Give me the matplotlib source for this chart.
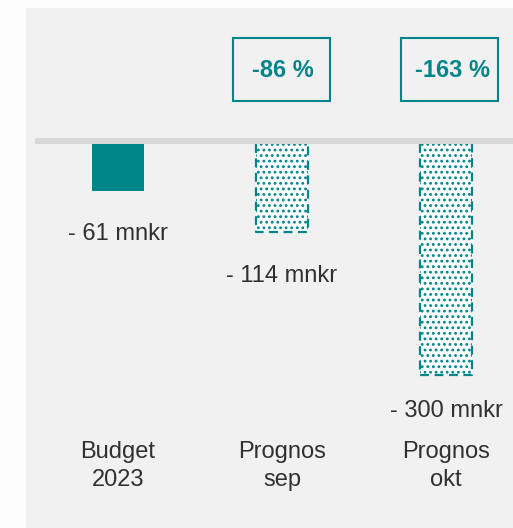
import matplotlib
matplotlib.use("Agg")
import matplotlib.pyplot as plt
from matplotlib.patches import Rectangle

# ---- data ----
categories = ["Budget\n2023", "Prognos\nsep", "Prognos\nokt"]
values = [-61, -114, -300]
value_labels = ["- 61 mnkr", "- 114 mnkr", "- 300 mnkr"]
change_labels = [None, "-86 %", "-163 %"]
forecast = [False, True, True]

# ---- style ----
TEAL = "#00858b"
TEXT = "#303030"
PANEL = "#f1f1f1"
BG = "#fdfdfd"
plt.rcParams["font.family"] = ["Liberation Sans", "DejaVu Sans"]
plt.rcParams["hatch.linewidth"] = 1.25

W, H, DPI = 513, 528, 100
fig = plt.figure(figsize=(W / DPI, H / DPI), dpi=DPI, facecolor=BG)
ax = fig.add_axes([26 / W, 0, (W - 26) / W, (H - 8) / H])
ax.set_facecolor(PANEL)
for s in ax.spines.values():
    s.set_visible(False)
ax.set_xticks([])
ax.set_yticks([])

XS = 164.0       # px per category
YS = 0.7704      # px per mnkr
X0PX, Y0PX = 118.0, 144.0
ax.set_xlim((26 - X0PX) / XS, (W - X0PX) / XS)
ax.set_ylim(-(H - Y0PX) / YS, (Y0PX - 8) / YS)

def dx(px):
    return px / XS

def dy(px):
    return px / YS

xs = list(range(len(categories)))
bw = dx(52)

# baseline band
ax.axhspan(0, dy(6), xmin=(35 - 26) / (W - 26), xmax=1, color="#d9d9d9", lw=0, zorder=2)

for x, v, fc in zip(xs, values, forecast):
    if not fc:
        ax.bar(x, v, width=bw, color=TEAL, lw=0, zorder=3)
    else:
        ax.bar(x, v, width=bw, facecolor="white", edgecolor=TEAL, lw=0,
               hatch="...", zorder=3)
        x0, x1 = x - bw / 2, x + bw / 2
        ax.plot([x0, x0, x1, x1], [0, v, v, 0], color=TEAL, lw=1.6,
                dashes=(4, 2.5), zorder=4, solid_joinstyle="miter")

label_off = [49, 50, 42]
for x, v, lab, off in zip(xs, values, value_labels, label_off):
    ax.annotate(lab, (x, v), xytext=(0, -off), textcoords="offset pixels",
                ha="center", va="baseline", fontsize=17, color=TEXT)

for x, cat in zip(xs, categories):
    ax.annotate(cat, (x, 0), xytext=(0, -(486 - Y0PX)), textcoords="offset pixels",
                ha="center", va="baseline", fontsize=17, color=TEXT,
                linespacing=1.35)

box_dx = [0, -0.5, 3.5]
txt_dx = [0, 0.5, 6.5]
for x, lab, bdx, tdx in zip(xs, change_labels, box_dx, txt_dx):
    if lab is None:
        continue
    cy = dy(Y0PX - 69.5)
    rect = Rectangle((x + dx(bdx) - dx(97) / 2, cy - dy(62) / 2), dx(97), dy(62),
                     facecolor="none", edgecolor=TEAL, lw=1.5, zorder=5)
    ax.add_patch(rect)
    ax.text(x + dx(tdx), dy(Y0PX - 70.5), lab, ha="center", va="center",
            fontsize=17, fontweight="bold", color=TEAL, zorder=6)

fig.savefig("out.png", dpi=DPI, facecolor=BG)
